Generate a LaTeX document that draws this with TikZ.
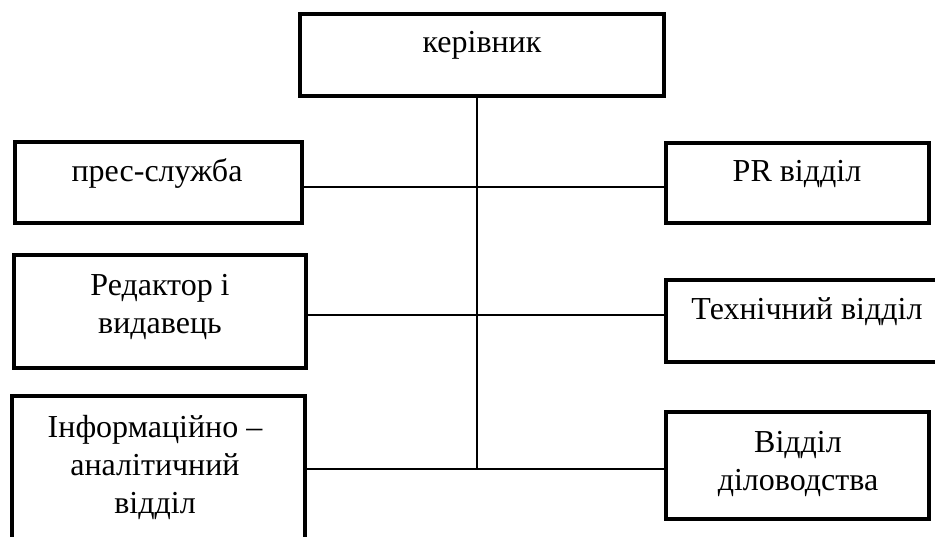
\documentclass[tikz,border=0pt]{standalone}
\usepackage{fontspec}
\setmainfont{Liberation Serif}
\begin{document}
\begin{tikzpicture}[x=1pt,y=-1pt,
  box/.style={draw, line width=3.2pt, inner sep=0, fill=none},
  conn/.style={line width=2.4pt},
  lbl/.style={font=\rmfamily\fontsize{32}{38}\selectfont, inner sep=0, align=center, anchor=base}]
\clip (0,0) rectangle (935,537);
% boxes
\node[box, minimum width=364pt, minimum height=82pt] (boss) at (482,55) {};
\node[box, minimum width=287pt, minimum height=81pt] (pres) at (158.5,182.5) {};
\node[box, minimum width=292pt, minimum height=113pt] (red) at (160,311.5) {};
\node[box, minimum width=293pt, minimum height=184pt] (info) at (158.5,488) {};
\node[box, minimum width=263pt, minimum height=80pt] (pr) at (797.5,183) {};
\node[box, minimum width=294pt, minimum height=82pt] (tech) at (813,321) {};
\node[box, minimum width=263pt, minimum height=107pt] (doc) at (797.5,465.5) {};
% labels (base = baseline of the last line)
\node[lbl] (tboss) at (482,53) {керівник};
\node[lbl] (tpres) at (157,182) {прес-служба};
\node[lbl] (tpr) at (797,182) {PR відділ};
\node[lbl] (tred) at (160,334) {Редактор і\\видавець};
\node[lbl] (ttech) at (807,320) {Технічний відділ};
\node[lbl] (tinfo) at (155,513) {Інформаційно –\\аналітичний\\відділ};
\node[lbl] (tdoc) at (798,490) {Відділ\\діловодства};
% connectors
\coordinate (s1) at (477,187);
\coordinate (s2) at (477,315);
\coordinate (s3) at (477,469);
\draw[conn] (boss.south -| s3) -- (s3);
\draw[conn] (pres.east |- s1) -- (pr.west |- s1);
\draw[conn] (red.east |- s2) -- (tech.west |- s2);
\draw[conn] (info.east |- s3) -- (doc.west |- s3);
\end{tikzpicture}
\end{document}
